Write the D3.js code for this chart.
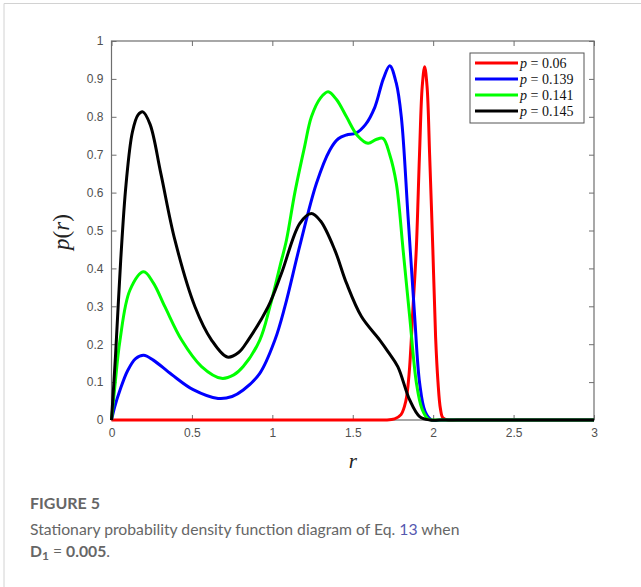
<!DOCTYPE html>
<html>
<head>
<meta charset="utf-8">
<script src="https://cdn.jsdelivr.net/npm/d3@7"></script>
<style>
  body { margin: 0; background: #fff; }
  svg { display: block; }
  .tick text { font-family: "Liberation Sans", Arial, sans-serif; font-size: 12px; fill: #505050; }
  .caption { font-family: "Lato", "Open Sans", sans-serif; fill: #666; }
</style>
</head>
<body>
<div id="chart"></div>
<script>
// series data: [r, p(r)]
const red060 = [[0, 0], [0.5, 0], [1.0, 0], [1.4, 0], [1.6, 0], [1.70, 0], [1.76, 0.003], [1.80, 0.014], [1.83, 0.05], [1.85, 0.12], [1.875, 0.3], [1.895, 0.45], [1.915, 0.7], [1.932, 0.88], [1.947, 0.932], [1.962, 0.88], [1.978, 0.7], [1.998, 0.45], [2.015, 0.22], [2.03, 0.1], [2.045, 0.03], [2.06, 0.006], [2.09, 0], [2.15, 0], [2.3, 0], [2.6, 0], [3, 0]];
const blue139 = [[0, 0], [0.02, 0.035], [0.053, 0.079], [0.1, 0.13], [0.15, 0.162], [0.2, 0.171], [0.26, 0.158], [0.374, 0.12], [0.508, 0.08], [0.663, 0.057], [0.75, 0.062], [0.819, 0.079], [0.922, 0.123], [1.016, 0.211], [1.078, 0.299], [1.171, 0.46], [1.274, 0.624], [1.357, 0.712], [1.41, 0.742], [1.461, 0.752], [1.52, 0.757], [1.58, 0.78], [1.637, 0.825], [1.69, 0.9], [1.73, 0.935], [1.77, 0.89], [1.802, 0.80], [1.844, 0.536], [1.885, 0.273], [1.916, 0.097], [1.95, 0.022], [1.99, 0], [2.05, 0], [2.2, 0], [2.5, 0], [3, 0]];
const green141 = [[0, 0], [0.02, 0.085], [0.053, 0.211], [0.115, 0.343], [0.2, 0.391], [0.26, 0.362], [0.332, 0.299], [0.436, 0.211], [0.56, 0.141], [0.684, 0.11], [0.76, 0.119], [0.819, 0.141], [0.922, 0.211], [0.985, 0.299], [1.047, 0.405], [1.088, 0.475], [1.14, 0.6], [1.2, 0.72], [1.243, 0.80], [1.30, 0.85], [1.347, 0.866], [1.40, 0.845], [1.461, 0.80], [1.53, 0.75], [1.595, 0.730], [1.645, 0.74], [1.688, 0.743], [1.73, 0.70], [1.771, 0.624], [1.813, 0.449], [1.854, 0.273], [1.896, 0.097], [1.93, 0.03], [1.968, 0.003], [2.0, 0], [2.05, 0], [2.2, 0], [2.5, 0], [3, 0]];
const black145 = [[0, 0], [0.025, 0.17], [0.057, 0.42], [0.09, 0.62], [0.13, 0.76], [0.165, 0.805], [0.195, 0.813], [0.24, 0.78], [0.307, 0.65], [0.394, 0.475], [0.519, 0.299], [0.622, 0.211], [0.72, 0.166], [0.79, 0.178], [0.85, 0.211], [0.974, 0.299], [1.057, 0.387], [1.171, 0.519], [1.243, 0.545], [1.30, 0.525], [1.388, 0.449], [1.461, 0.361], [1.554, 0.273], [1.668, 0.211], [1.72, 0.18], [1.78, 0.141], [1.854, 0.053], [1.916, 0.009], [1.98, 0], [2.04, 0], [2.2, 0], [2.5, 0], [3, 0]];

const seriesNames = ['0.06', '0.139', '0.141', '0.145'];
const seriesColors = ['#ff0000', '#0000ff', '#00ff00', '#000000'];
const seriesData = [red060, blue139, green141, black145];

const xTicks = [0, 0.5, 1, 1.5, 2, 2.5, 3];
const yTicks = [0, 0.1, 0.2, 0.3, 0.4, 0.5, 0.6, 0.7, 0.8, 0.9, 1];

// dimensions
const W = 641;
const H = 587;
const plot = { left: 111.5, top: 41, right: 594, bottom: 420 };
const TICK = 5;
const BOX = '#6e6e6e';

const svg = d3.select('#chart').append('svg').attr('width', W).attr('height', H);

// page frame
svg.append('line').attr('x1', 4).attr('x2', W).attr('y1', 3.5).attr('y2', 3.5)
  .attr('stroke', '#d2d2d2').attr('stroke-width', 1);
svg.append('line').attr('x1', 4).attr('x2', 4).attr('y1', 3.5).attr('y2', H)
  .attr('stroke', '#d2d2d2').attr('stroke-width', 1);

// scales
const x = d3.scaleLinear().domain([0, 3]).range([plot.left, plot.right]);
const y = d3.scaleLinear().domain([0, 1]).range([plot.bottom, plot.top]);

// axes (MATLAB style: inward ticks on all four sides)
const fmt = d => (d === 0 ? '0' : String(d));
const $axes = svg.append('g').attr('class', 'g-axis');

$axes.append('g').attr('transform', `translate(0,${plot.bottom})`)
  .call(d3.axisBottom(x).tickValues(xTicks).tickFormat(fmt).tickSizeInner(-TICK).tickSizeOuter(0).tickPadding(8));
$axes.append('g').attr('transform', `translate(${plot.left},0)`)
  .call(d3.axisLeft(y).tickValues(yTicks).tickFormat(fmt).tickSizeInner(-TICK).tickSizeOuter(0).tickPadding(8));
$axes.append('g').attr('transform', `translate(0,${plot.top})`)
  .call(d3.axisTop(x).tickValues(xTicks).tickFormat('').tickSizeInner(-TICK).tickSizeOuter(0));
$axes.append('g').attr('transform', `translate(${plot.right},0)`)
  .call(d3.axisRight(y).tickValues(yTicks).tickFormat('').tickSizeInner(-TICK).tickSizeOuter(0));

$axes.selectAll('.domain').remove();
$axes.selectAll('.tick line').attr('stroke', BOX);

$axes.append('rect')
  .attr('x', plot.left).attr('y', plot.top)
  .attr('width', plot.right - plot.left).attr('height', plot.bottom - plot.top)
  .attr('fill', 'none').attr('stroke', BOX).attr('stroke-width', 1.2);

// curves
const line = d3.line()
  .curve(d3.curveCatmullRom.alpha(0.5))
  .x(d => x(d[0]))
  .y(d => y(d[1]));

svg.append('g').attr('class', 'g-vis')
  .selectAll('path')
  .data(seriesData)
  .join('path')
  .attr('d', line)
  .attr('fill', 'none')
  .attr('stroke', (d, i) => seriesColors[i])
  .attr('stroke-width', 3)
  .attr('stroke-linejoin', 'round');

// axis labels
const serif = '"Liberation Serif", "Times New Roman", serif';
const $yl = svg.append('text')
  .attr('transform', 'translate(69,232) rotate(-90)')
  .attr('text-anchor', 'middle')
  .style('font-family', serif).style('font-size', '23px').attr('fill', '#222');
$yl.append('tspan').style('font-style', 'italic').text('p');
$yl.append('tspan').text('(');
$yl.append('tspan').style('font-style', 'italic').text('r');
$yl.append('tspan').text(')');

svg.append('text')
  .attr('x', x(1.5)).attr('y', 468)
  .attr('text-anchor', 'middle')
  .style('font-family', serif).style('font-size', '21px').style('font-style', 'italic')
  .attr('fill', '#222')
  .text('r');

// legend
const $legend = svg.append('g').attr('class', 'g-legend').attr('transform', 'translate(470,53)');
$legend.append('rect').attr('width', 114).attr('height', 70)
  .attr('fill', '#fff').attr('stroke', '#555').attr('stroke-width', 1);
const $item = $legend.selectAll('.item').data(seriesNames).join('g')
  .attr('class', 'item')
  .attr('transform', (d, i) => `translate(0,${10 + i * 16})`);
$item.append('line').attr('x1', 5).attr('x2', 48).attr('y1', 0).attr('y2', 0)
  .attr('stroke', (d, i) => seriesColors[i]).attr('stroke-width', 3);
const $lt = $item.append('text').attr('x', 50).attr('y', 4.5)
  .style('font-family', serif).style('font-size', '14px').attr('fill', '#111');
$lt.append('tspan').style('font-style', 'italic').text('p');
$lt.append('tspan').text(d => ` = ${d}`);

// caption
svg.append('text').attr('class', 'caption')
  .attr('x', 30).attr('y', 509)
  .style('font-size', '16px').style('font-weight', 700).attr('fill', '#595959')
  .text('FIGURE 5');

const $c2 = svg.append('text').attr('class', 'caption')
  .attr('x', 30).attr('y', 535)
  .style('font-size', '17px');
$c2.append('tspan').text('Stationary probability density function diagram of Eq. ');
$c2.append('tspan').attr('fill', '#5558b0').text('13');
$c2.append('tspan').text(' when');
// fit the caption line to the reference's width by font size, not by squeezing
const c2w = $c2.node().getComputedTextLength();
const capSize = Math.min(18, 17 * 430 / c2w);
$c2.style('font-size', `${capSize}px`);

const $c3 = svg.append('text').attr('class', 'caption')
  .attr('x', 30).attr('y', 557)
  .style('font-size', `${capSize}px`);
$c3.append('tspan').style('font-weight', 700).text('D');
$c3.append('tspan').style('font-weight', 700).style('font-size', '12px').attr('dy', 3).text('1');
$c3.append('tspan').attr('dy', -3).text(' = ');
$c3.append('tspan').style('font-weight', 700).text('0.005');
$c3.append('tspan').text('.');
</script>
</body>
</html>
